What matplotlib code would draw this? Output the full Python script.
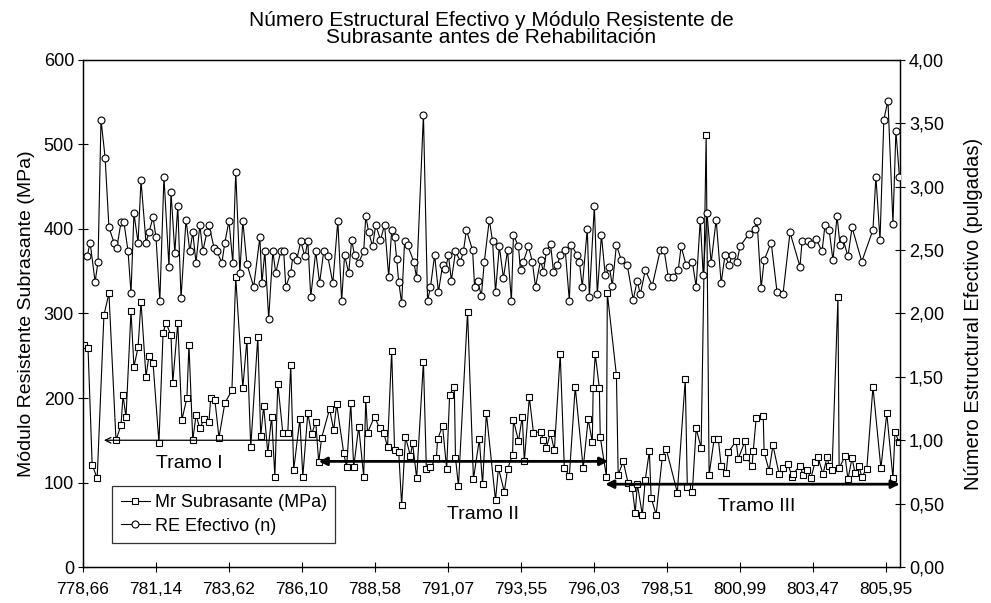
import numpy as np
import matplotlib.pyplot as plt
from matplotlib.lines import Line2D

plt.rcParams['font.family'] = ['Liberation Sans', 'DejaVu Sans']

# Modulo resistente de subrasante (MPa) - abscisa en km
mr_km = [778.69, 778.83, 778.97, 779.14, 779.37, 779.54, 779.78, 779.95, 780.02, 780.12,
         780.29, 780.39, 780.53, 780.63, 780.80, 780.90, 781.04, 781.24, 781.38, 781.48,
         781.65, 781.71, 781.88, 782.02, 782.19, 782.26, 782.39, 782.50, 782.63, 782.77,
         782.94, 783.00, 783.14, 783.28, 783.48, 783.72, 783.85, 784.09, 784.23, 784.36,
         784.60, 784.70, 784.80, 784.94, 785.07, 785.18, 785.28, 785.45, 785.62, 785.72,
         785.82, 786.03, 786.13, 786.30, 786.43, 786.57, 786.67, 786.77, 787.04, 787.18,
         787.28, 787.52, 787.62, 787.76, 787.86, 788.03, 788.20, 788.27, 788.33, 788.57,
         788.74, 788.88, 789.01, 789.15, 789.25, 789.39, 789.49, 789.62, 789.79, 789.86,
         790.00, 790.23, 790.33, 790.47, 790.67, 790.71, 790.88, 791.02, 791.12, 791.28,
         791.32, 791.42, 791.73, 791.93, 792.13, 792.24, 792.37, 792.68, 792.78, 792.98,
         793.09, 793.26, 793.29, 793.46, 793.59, 793.66, 793.83, 793.97, 794.21, 794.31,
         794.41, 794.55, 794.68, 794.88, 795.02, 795.19, 795.39, 795.66, 795.83, 795.97,
         796.00, 796.07, 796.21, 796.24, 796.45, 796.48, 796.79, 796.85, 797.02, 797.19,
         797.33, 797.43, 797.50, 797.67, 797.77, 797.91, 797.97, 798.14, 798.35, 798.48,
         798.86, 799.13, 799.20, 799.37, 799.50, 799.67, 799.84, 799.94, 800.11, 800.25,
         800.35, 800.52, 800.59, 800.86, 800.93, 801.16, 801.20, 801.40, 801.44, 801.54,
         801.78, 801.81, 801.98, 802.11, 802.32, 802.45, 802.62, 802.76, 802.79, 803.03,
         803.13, 803.27, 803.40, 803.54, 803.64, 803.81, 803.95, 804.02, 804.12, 804.32,
         804.36, 804.56, 804.66, 804.80, 804.90, 805.03, 805.13, 805.30, 805.51, 805.78,
         805.98, 806.19, 806.26, 806.39]
mr_val = [263, 259, 121, 105, 298, 324, 150, 168, 203, 177,
          303, 237, 260, 314, 225, 250, 241, 147, 277, 289,
          274, 218, 289, 174, 200, 263, 150, 180, 164, 175,
          172, 200, 198, 153, 194, 209, 343, 212, 269, 142,
          272, 155, 190, 135, 178, 107, 217, 159, 159, 239,
          115, 175, 107, 182, 157, 172, 124, 153, 187, 162,
          193, 135, 118, 194, 118, 166, 107, 199, 159, 178,
          164, 159, 142, 256, 138, 136, 73, 154, 131, 147,
          105, 243, 116, 118, 129, 151, 167, 116, 204, 213,
          129, 96, 302, 104, 151, 98, 182, 79, 117, 89,
          116, 133, 174, 149, 178, 125, 201, 159, 160, 150,
          141, 159, 138, 252, 117, 108, 213, 117, 175, 148,
          212, 252, 212, 154, 107, 324, 227, 109, 125, 99,
          93, 64, 98, 62, 103, 137, 82, 62, 130, 140,
          88, 222, 95, 89, 164, 141, 511, 109, 151, 152,
          120, 111, 136, 149, 128, 149, 130, 120, 137, 176,
          179, 136, 114, 144, 110, 117, 122, 107, 110, 120,
          109, 115, 105, 124, 130, 110, 130, 120, 115, 320,
          117, 131, 104, 129, 111, 120, 107, 116, 213, 117,
          182, 105, 160, 148]

# Numero estructural efectivo (pulgadas)
re_km = [778.80, 778.90, 779.07, 779.17, 779.27, 779.41, 779.54, 779.71, 779.81, 779.95,
         780.05, 780.19, 780.29, 780.39, 780.53, 780.63, 780.80, 780.90, 781.04, 781.14,
         781.27, 781.41, 781.58, 781.65, 781.78, 781.88, 781.99, 782.16, 782.29, 782.39,
         782.50, 782.63, 782.73, 782.87, 782.94, 783.11, 783.21, 783.38, 783.48, 783.62,
         783.75, 783.85, 783.99, 784.09, 784.23, 784.46, 784.67, 784.74, 784.84, 784.97,
         785.11, 785.21, 785.38, 785.48, 785.55, 785.72, 785.79, 785.92, 786.06, 786.20,
         786.30, 786.40, 786.57, 786.70, 786.84, 786.98, 787.15, 787.32, 787.45, 787.55,
         787.69, 787.79, 787.89, 788.03, 788.20, 788.27, 788.37, 788.50, 788.61, 788.77,
         788.91, 789.05, 789.15, 789.25, 789.32, 789.39, 789.49, 789.59, 789.69, 789.90,
         790.00, 790.23, 790.37, 790.47, 790.61, 790.74, 790.88, 790.98, 791.08, 791.18,
         791.32, 791.49, 791.59, 791.69, 791.90, 791.97, 792.07, 792.20, 792.30, 792.47,
         792.58, 792.68, 792.81, 792.95, 793.09, 793.22, 793.29, 793.46, 793.53, 793.63,
         793.80, 793.93, 794.04, 794.21, 794.31, 794.41, 794.55, 794.65, 794.78, 794.88,
         795.05, 795.19, 795.26, 795.46, 795.53, 795.63, 795.80, 795.87, 796.04, 796.14,
         796.28, 796.41, 796.55, 796.65, 796.79, 796.96, 797.16, 797.36, 797.50, 797.60,
         797.77, 798.01, 798.28, 798.41, 798.55, 798.72, 798.89, 798.99, 799.16, 799.37,
         799.50, 799.64, 799.74, 799.87, 800.01, 800.18, 800.35, 800.48, 800.62, 800.72,
         800.89, 800.99, 801.30, 801.50, 801.57, 801.71, 801.81, 802.05, 802.25, 802.45,
         802.69, 803.03, 803.10, 803.30, 803.40, 803.57, 803.78, 803.88, 804.02, 804.15,
         804.29, 804.39, 804.49, 804.66, 804.80, 805.13, 805.51, 805.61, 805.75, 805.88,
         806.02, 806.19, 806.29, 806.41]
re_val = [2.45, 2.56, 2.25, 2.41, 3.53, 3.23, 2.68, 2.56, 2.52, 2.72,
          2.72, 2.49, 2.16, 2.79, 2.56, 3.05, 2.56, 2.64, 2.76, 2.60,
          2.10, 3.08, 2.37, 2.96, 2.48, 2.85, 2.12, 2.74, 2.49, 2.64,
          2.40, 2.70, 2.49, 2.64, 2.70, 2.52, 2.49, 2.40, 2.56, 2.73,
          2.40, 3.12, 2.32, 2.73, 2.39, 2.21, 2.60, 2.24, 2.49, 1.96,
          2.49, 2.32, 2.49, 2.49, 2.21, 2.32, 2.45, 2.42, 2.57, 2.45,
          2.57, 2.13, 2.49, 2.24, 2.49, 2.45, 2.24, 2.73, 2.10, 2.46,
          2.32, 2.58, 2.46, 2.40, 2.49, 2.77, 2.64, 2.53, 2.70, 2.58,
          2.70, 2.29, 2.66, 2.60, 2.43, 2.25, 2.08, 2.57, 2.54, 2.41,
          2.28, 3.57, 2.10, 2.21, 2.46, 2.17, 2.38, 2.35, 2.46, 2.26,
          2.49, 2.41, 2.49, 2.66, 2.50, 2.21, 2.26, 2.14, 2.41, 2.74,
          2.57, 2.17, 2.53, 2.28, 2.50, 2.10, 2.62, 2.53, 2.34, 2.41,
          2.53, 2.41, 2.21, 2.42, 2.33, 2.49, 2.55, 2.33, 2.38, 2.46,
          2.50, 2.10, 2.54, 2.46, 2.41, 2.21, 2.67, 2.13, 2.85, 2.15,
          2.62, 2.30, 2.37, 2.22, 2.54, 2.42, 2.38, 2.11, 2.26, 2.15,
          2.34, 2.22, 2.50, 2.50, 2.29, 2.29, 2.34, 2.53, 2.38, 2.41,
          2.21, 2.74, 2.30, 2.79, 2.40, 2.74, 2.24, 2.46, 2.38, 2.46,
          2.41, 2.53, 2.63, 2.67, 2.73, 2.20, 2.42, 2.56, 2.17, 2.15,
          2.64, 2.37, 2.57, 2.57, 2.55, 2.59, 2.49, 2.70, 2.66, 2.42,
          2.77, 2.54, 2.59, 2.45, 2.68, 2.41, 2.66, 3.08, 2.58, 3.53,
          3.68, 2.71, 3.44, 3.08]

xticks = [778.66, 781.14, 783.62, 786.10, 788.58, 791.07, 793.55,
          796.03, 798.51, 800.99, 803.47, 805.95]
left_ticks = [0, 100, 200, 300, 400, 500, 600]
right_ticks = [0, 0.5, 1.0, 1.5, 2.0, 2.5, 3.0, 3.5, 4.0]

# tramos: inicio, fin, nivel (MPa)
tramos = {'Tramo I': (779.37, 786.67, 150),
          'Tramo II': (786.67, 796.51, 125),
          'Tramo III': (796.41, 806.42, 98)}

fig = plt.figure(figsize=(9.91, 6.03), dpi=100)
ax = fig.add_axes([0.0838, 0.0597, 0.8244, 0.8408])
ax2 = ax.twinx()

ax.plot(mr_km, mr_val, color='black', lw=0.8, marker='s', ms=4.2,
        mfc='white', mec='black', mew=0.8, zorder=3)
ax2.plot(re_km, re_val, color='black', lw=0.8, marker='o', ms=5,
         mfc='white', mec='black', mew=0.8, zorder=3)

ax.set_xlim(778.66, 806.43)
ax.set_ylim(0, 600)
ax2.set_ylim(0, 4)
ax.set_xticks(xticks)
ax.set_xticklabels([f'{v:.2f}'.replace('.', ',') for v in xticks])
ax.set_yticks(left_ticks)
ax2.set_yticks(right_ticks)
ax2.set_yticklabels([f'{v:.2f}'.replace('.', ',') for v in right_ticks])

for a in (ax, ax2):
    a.tick_params(direction='inout', length=7, width=0.8, labelsize=13, pad=3)
    for s in a.spines.values():
        s.set_linewidth(0.9)
ax.tick_params(axis='x', labelsize=12.5, pad=7)

ax.set_ylabel('Módulo Resistente Subrasante (MPa)', fontsize=14, labelpad=6)
ax2.set_ylabel('Número Estructural Efectivo (pulgadas)', fontsize=14.5,
               rotation=90, labelpad=14)
ax.set_title('Número Estructural Efectivo y Módulo Resistente de\n'
             'Subrasante antes de Rehabilitación', fontsize=15,
             linespacing=0.92, pad=12)

# flechas de tramos
x0, x1, y = tramos['Tramo I']
ax.annotate('', xy=(x0, y), xytext=(x1, y),
            arrowprops=dict(arrowstyle='->', lw=0.9, color='black',
                            shrinkA=0, shrinkB=0))
for name in ('Tramo II', 'Tramo III'):
    x0, x1, y = tramos[name]
    ax.annotate('', xy=(x0, y), xytext=(x1, y),
                arrowprops=dict(arrowstyle='<|-|>', lw=2, color='black',
                                mutation_scale=12, shrinkA=0, shrinkB=0))

ax.text(782.26, 123, 'Tramo I', fontsize=14, ha='center', va='center')
ax.text(792.27, 62, 'Tramo II', fontsize=14, ha='center', va='center')
ax.text(801.57, 72, 'Tramo III', fontsize=14, ha='center', va='center')

handles = [Line2D([], [], color='black', lw=0.8, marker='s', ms=4.2,
                  mfc='white', mec='black', mew=0.8),
           Line2D([], [], color='black', lw=0.8, marker='o', ms=5,
                  mfc='white', mec='black', mew=0.8)]
leg = ax2.legend(handles, ['Mr Subrasante (MPa)', 'RE Efectivo (n)'],
                 loc='lower left', bbox_to_anchor=(0.025, 0.03),
                 fontsize=13, frameon=True, fancybox=False, edgecolor='black',
                 handlelength=1.6, handletextpad=0.3, borderpad=0.45,
                 labelspacing=0.35)
leg.get_frame().set_linewidth(0.9)

fig.savefig('out.png', dpi=100)
